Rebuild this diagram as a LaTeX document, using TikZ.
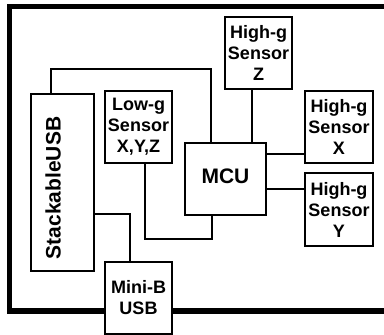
\documentclass[tikz,border=0pt]{standalone}
\usepackage{fontspec}
\setmainfont{Liberation Sans}
\usepackage{tikz}

\begin{document}
\begin{tikzpicture}[x=1pt, y=-1pt,
    block/.style={draw, line width=1.8pt, fill=white, align=center, inner sep=0pt,
        font=\fontsize{18}{21}\selectfont\bfseries},
    wire/.style={line width=1.5pt}]
    \useasboundingbox (0,0) rectangle (384,335);
    \clip (0,0) rectangle (384,335);
    % board outline
    \draw[line width=5.5pt] (400,6.5) -- (9.5,6.5) -- (9.5,311) -- (400,311);
    % blocks
    \node[block, minimum width=63pt, minimum height=177pt,
        font=\fontsize{21}{24}\selectfont\bfseries] (stack) at (62.5,182.5)
        {\rotatebox{90}{StackableUSB\hspace*{11pt}}\hspace*{19pt}};
    \node[block, minimum width=67pt, minimum height=72pt] (lowg) at (138.5,127) {Low-g\\Sensor\\X,Y,Z};
    \node[block, minimum width=81pt, minimum height=72pt, text depth=6pt,
        font=\fontsize{21}{24}\selectfont\bfseries] (mcu) at (225.5,179) {MCU};
    \node[block, minimum width=67pt, minimum height=72pt] (hgz) at (258.5,53) {High-g\\Sensor\\Z};
    \node[block, minimum width=68pt, minimum height=72pt] (hgx) at (339,127) {High-g\\Sensor\\X};
    \node[block, minimum width=68pt, minimum height=73pt] (hgy) at (339,209.5) {High-g\\Sensor\\Y};
    \node[block, minimum width=67pt, minimum height=72pt] (minib) at (138.5,298) {Mini-B\\USB};
    % connections
    \draw[wire] ([xshift=21pt]stack.north west) -- ++(0,-24) -| ([xshift=27pt]mcu.north west);
    \draw[wire] ([xshift=-6.5pt]hgz.south) -- ([xshift=-6.5pt]hgz.south |- mcu.north);
    \draw[wire] ([yshift=25pt]mcu.east) -- ([yshift=-27pt]hgx.west);
    \draw[wire] ([yshift=-10pt]mcu.east) -- ([yshift=20.5pt]hgy.west);
    \draw[wire] ([xshift=6.5pt]lowg.south) -- ++(0,75) -| ([xshift=-13.5pt]mcu.south);
    \draw[wire] ([yshift=-31.5pt]stack.east) -| ([xshift=-8.5pt]minib.north);
\end{tikzpicture}
\end{document}
